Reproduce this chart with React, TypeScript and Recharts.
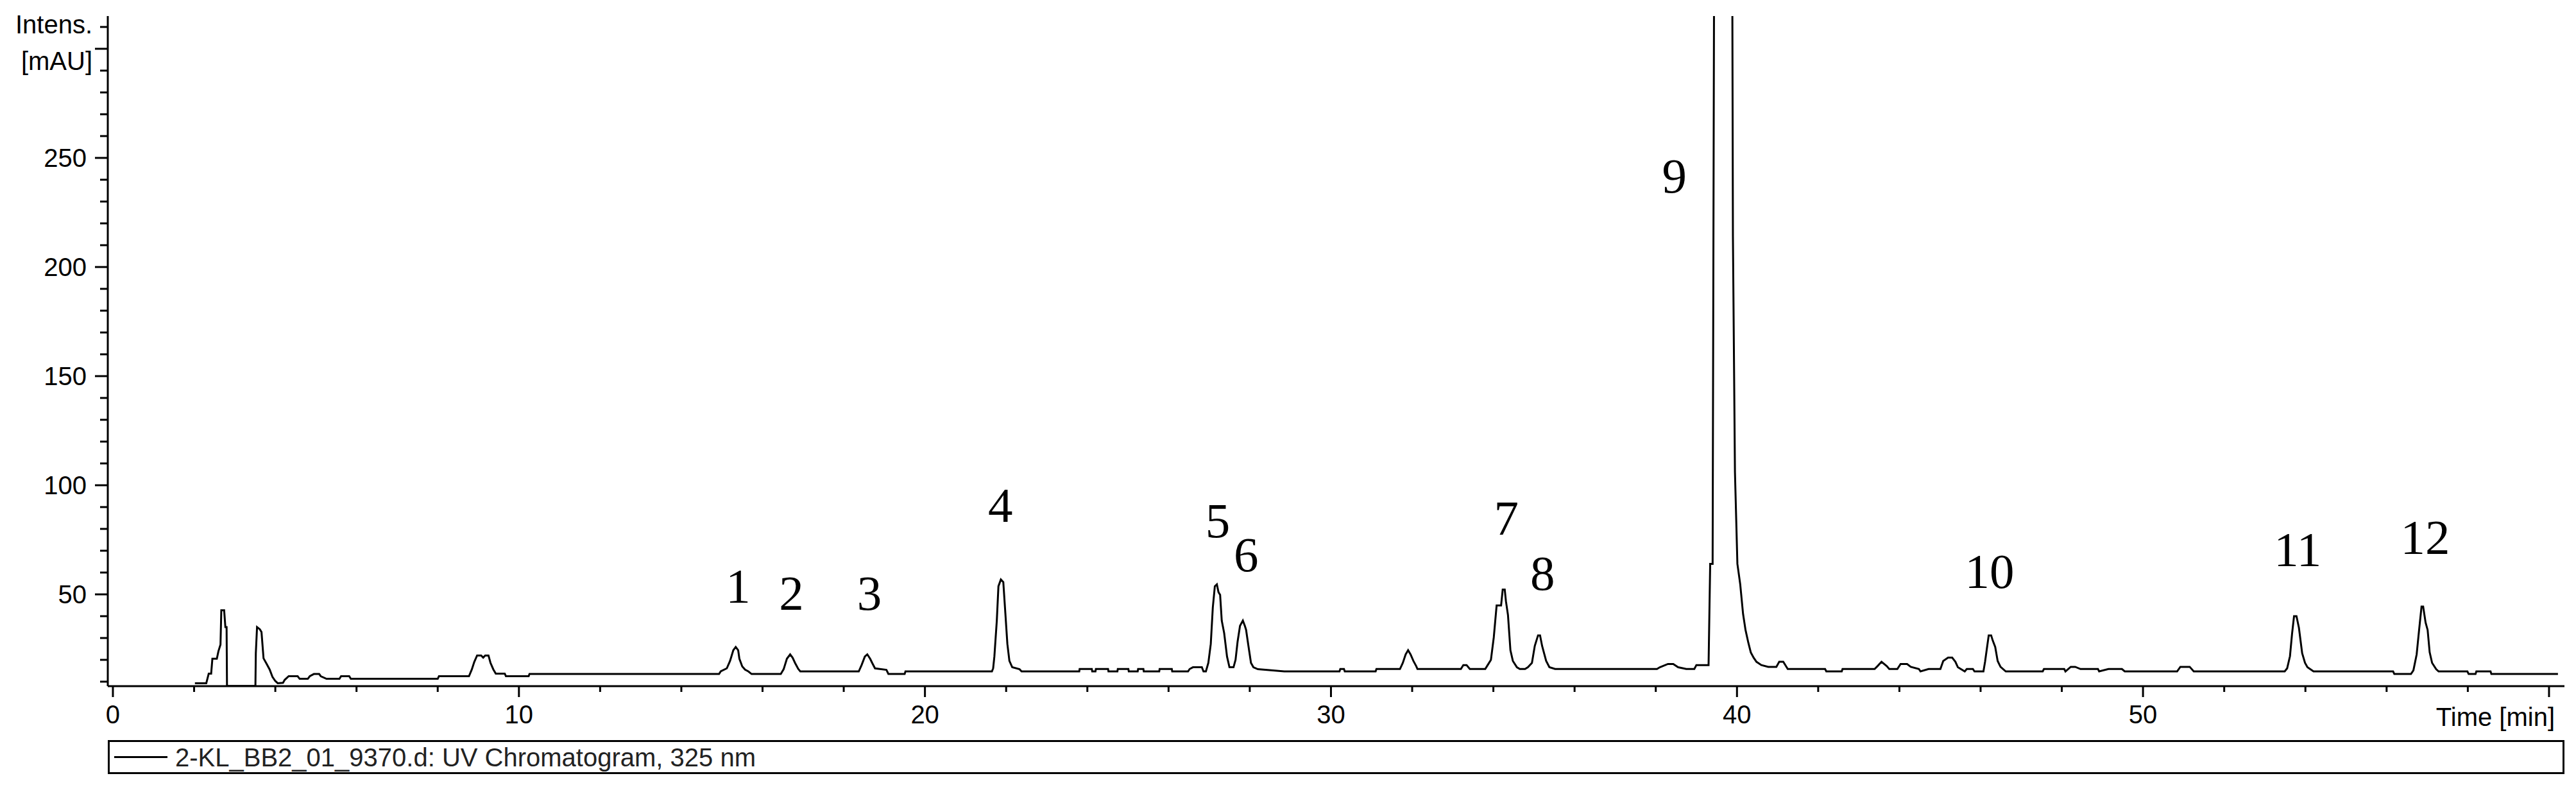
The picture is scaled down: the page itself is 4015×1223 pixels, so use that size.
import React from "react";
import {
  ComposedChart, Line, Scatter, XAxis, YAxis, Legend,
} from "recharts";

// retention time [min] and UV intensity [mAU]
const traceTime = [
  2.02, 2.3, 2.36, 2.42, 2.45, 2.56, 2.6, 2.65, 2.67, 2.74, 2.77, 2.8, 2.81, 3.51, 3.52, 3.55, 3.62, 3.66,
  3.71, 3.79, 3.86, 3.93, 4.0, 4.06, 4.19, 4.23, 4.33, 4.55, 4.6, 4.8, 4.85, 4.95, 5.08, 5.12, 5.26, 5.58,
  5.62, 5.82, 5.86, 8.0, 8.03, 8.77, 8.84, 8.9, 8.97, 9.07, 9.12, 9.17, 9.25, 9.3, 9.37, 9.43, 9.65, 9.68,
  10.24, 10.26, 14.93, 14.97, 15.12, 15.2, 15.28, 15.34, 15.4, 15.43, 15.5, 15.57, 15.65, 15.73, 16.45,
  16.52, 16.6, 16.68, 16.74, 16.8, 16.88, 16.93, 18.37, 18.44, 18.52, 18.58, 18.65, 18.7, 18.77, 19.05,
  19.07, 19.1, 19.5, 19.52, 21.65, 21.68, 21.71, 21.77, 21.81, 21.87, 21.93, 21.98, 22.03, 22.08, 22.15,
  22.33, 22.38, 23.8, 23.81, 24.11, 24.12, 24.2, 24.21, 24.51, 24.52, 24.74, 24.75, 25.01, 25.02, 25.24,
  25.25, 25.38, 25.39, 25.77, 25.78, 26.08, 26.09, 26.48, 26.52, 26.6, 26.82, 26.86, 26.92, 26.98, 27.04,
  27.09, 27.14, 27.19, 27.23, 27.27, 27.31, 27.37, 27.44, 27.5, 27.6, 27.65, 27.7, 27.76, 27.83, 27.88,
  27.91, 27.96, 28.03, 28.09, 28.2, 28.85, 30.21, 30.23, 30.32, 30.34, 31.1, 31.12, 31.7, 31.77, 31.84,
  31.9, 31.96, 32.03, 32.1, 32.13, 33.2, 33.26, 33.34, 33.42, 33.8, 33.86, 33.94, 34.01, 34.08, 34.19,
  34.23, 34.28, 34.31, 34.36, 34.42, 34.48, 34.58, 34.65, 34.78, 34.85, 34.95, 35.02, 35.1, 35.15, 35.2,
  35.3, 35.38, 35.52, 38.03, 38.1, 38.3, 38.43, 38.55, 38.75, 38.95, 39.0, 39.3, 39.34, 39.4, 39.66, 39.9,
  39.95, 40.01, 40.08, 40.15, 40.21, 40.28, 40.34, 40.41, 40.48, 40.6, 40.77, 40.97, 41.04, 41.14, 41.25,
  42.17, 42.2, 42.58, 42.6, 43.39, 43.46, 43.56, 43.69, 43.75, 43.95, 44.03, 44.19, 44.28, 44.48, 44.52,
  44.72, 45.01, 45.08, 45.2, 45.3, 45.38, 45.44, 45.61, 45.66, 45.81, 45.85, 46.07, 46.11, 46.16, 46.2,
  46.26, 46.3, 46.36, 46.42, 46.49, 46.62, 47.53, 47.56, 48.06, 48.09, 48.22, 48.33, 48.46, 48.89, 48.92,
  49.15, 49.48, 49.55, 50.84, 50.92, 51.15, 51.25, 53.49, 53.55, 53.62, 53.67, 53.72, 53.78, 53.84, 53.92,
  53.99, 54.05, 54.2, 56.16, 56.19, 56.6, 56.66, 56.74, 56.8, 56.86, 56.9, 56.96, 57.01, 57.06, 57.12,
  57.22, 57.28, 57.99, 58.02, 58.19, 58.21, 58.56, 58.58, 60.22,
];

const traceIntensity = [
  9.3, 9.3, 13.7, 13.7, 20.5, 20.5, 24, 27, 42.7, 42.7, 35, 35, 8, 8, 23, 35, 34, 32.7,
  20.7, 18, 15.6, 12.2, 10.3, 9.3, 9.5, 10.8, 12.5, 12.5, 11.3, 11.3, 12.5, 13.5, 13.5, 12.5, 11.3, 11.3,
  12.5, 12.5, 11.3, 11.3, 12.5, 12.5, 15.6, 19, 22, 22, 21, 22, 22, 18.6, 15.6, 13.7, 13.7, 12.5,
  12.5, 13.5, 13.5, 14.7, 16.1, 19.5, 24.4, 25.9, 24.4, 20.5, 17, 15.5, 14.7, 13.5, 13.5,
  15.7, 20.5, 22.5, 21, 18.6, 15.8, 14.7, 14.7, 17.6, 21.5, 22.5, 20.5, 18.6, 16.1, 15.4,
  14.7, 13.5, 13.5, 14.7, 14.7, 16.1, 21.5, 38, 53.7, 56.8, 55.6, 41.5, 27.3, 19.5, 16.6,
  15.7, 14.7, 14.7, 15.8, 15.8, 14.7, 14.7, 15.8, 15.8, 14.7, 14.7, 15.8, 15.8, 14.7, 14.7,
  15.8, 15.8, 14.7, 14.7, 15.8, 15.8, 14.7, 14.7, 15.8, 16.6, 16.6, 14.7, 14.7, 18.6, 27.3,
  44, 53.7, 54.6, 51, 49.8, 38, 32.2, 21.5, 16.6, 16.6, 20, 28.3, 35.6, 38, 35.5,
  33.7, 27.3, 18.6, 16.6, 15.7, 14.7, 14.7, 15.8, 15.8, 14.7, 14.7, 15.8, 15.8, 18.6, 22.5,
  24.4, 22.5, 19.5, 17.1, 15.8, 15.8, 17.6, 17.6, 15.8, 15.8, 17.6, 20, 30.3, 44.9, 44.9,
  52.2, 52.2, 46.8, 40.5, 24.4, 19.5, 16.6, 15.8, 15.8, 16.6, 18.6, 26.4, 31.2, 31.2, 26.4,
  19.5, 16.6, 15.8, 15.8, 16.6, 18.1, 18.1, 16.6, 15.8, 15.8, 17.6, 17.6, 64, 64, 2000, 214,
  106, 64, 54.6, 41, 33.7, 27.8, 23.4, 21, 19.1, 17.6, 16.8, 16.8, 19.1, 19.1, 15.8,
  15.8, 14.7, 14.7, 15.8, 15.8, 17.1, 19.1, 17.1, 15.8, 15.8, 18.1, 18.1, 16.8, 15.8, 14.7,
  15.8, 15.8, 19.5, 21, 21, 19.1, 16.6, 14.7, 15.8, 15.8, 14.7, 14.7, 19.1, 25.9, 31.2,
  31.2, 28.8, 25.9, 19.5, 16.8, 14.7, 14.7, 15.8, 15.8, 14.7, 16.8, 16.8, 15.8, 15.8, 14.7,
  15.8, 15.8, 14.7, 14.7, 16.8, 16.8, 14.7, 14.7, 16.1, 21.7, 31.7, 40, 40, 34.7, 23,
  18.6, 16.6, 14.7, 14.7, 13.5, 13.5, 15.2, 22.5, 33.7, 44.4, 44.4, 37.1, 33.7, 23.5, 18.6,
  15.7, 14.7, 14.7, 13.5, 13.5, 14.7, 14.7, 13.5, 13.5,
];

// peak numbers and where they are written
const peakNames = ["1", "2", "3", "4", "5", "6", "7", "8", "9", "10", "11", "12"];
const peakLabelTime = [15.4, 16.71, 18.63, 21.86, 27.21, 27.91, 34.32, 35.21, 38.46, 46.22, 53.81, 56.95];
const peakLabelHeight = [53.8, 50.6, 50.6, 90.9, 83.8, 68.2, 85, 59.7, 241.8, 60.6, 70.6, 76.2];

const xTicks = Array.from({ length: 31 }, (_, i) => i * 2);
const yTicks = Array.from({ length: 31 }, (_, i) => (i + 1) * 10);
const X_DOMAIN: [number, number] = [-0.126, 60.38];
const Y_DOMAIN: [number, number] = [7.94, 315];

const SANS = "'Liberation Sans', Arial, sans-serif";
const SERIF = "'Liberation Serif', 'Times New Roman', serif";

const data = traceTime.map((t, i) => ({ t, v: traceIntensity[i] }));
const peaks = peakNames.map((name, i) => ({ t: peakLabelTime[i], v: peakLabelHeight[i], name }));

function TimeTick({ x, y, payload }: any) {
  const major = payload.value % 10 === 0;
  return (
    <g>
      <line x1={x} x2={x} y1={y} y2={y + (major ? 17 : 9)} stroke="#000" strokeWidth={3} />
      {major && payload.value < 60 && (
        <text x={x} y={y + 44} textAnchor="middle" dominantBaseline="central" fontSize={40} fontFamily={SANS} fill="#000">
          {payload.value}
        </text>
      )}
    </g>
  );
}

function IntensTick({ x, y, payload }: any) {
  const major = payload.value % 50 === 0;
  return (
    <g>
      <line x1={x - (major ? 20 : 12)} x2={x} y1={y} y2={y} stroke="#000" strokeWidth={3} />
      {major && payload.value !== 300 && (
        <text x={x - 33} y={y} textAnchor="end" dominantBaseline="central" fontSize={40} fontFamily={SANS} fill="#000">
          {payload.value}
        </text>
      )}
    </g>
  );
}

function PeakLabel({ cx, cy, payload }: any) {
  return (
    <text x={cx} y={cy} textAnchor="middle" dominantBaseline="central" fontSize={77} fontFamily={SERIF} fill="#000">
      {payload.name}
    </text>
  );
}

function LegendBox() {
  return (
    <div
      style={{
        boxSizing: "border-box",
        height: 53,
        border: "3px solid #000",
        display: "flex",
        alignItems: "center",
        paddingLeft: 7,
        background: "#fff",
      }}
    >
      <div style={{ width: 83, height: 3, background: "#000", marginRight: 12 }} />
      <span style={{ fontFamily: SANS, fontSize: 40, color: "#222", lineHeight: "40px" }}>
        2-KL_BB2_01_9370.d: UV Chromatogram, 325 nm
      </span>
    </div>
  );
}

export default function App() {
  return (
    <div style={{ width: 4015, height: 1223, background: "#fff" }}>
      <style>{"body{margin:0;overflow:hidden;background:#fff}"}</style>
      <ComposedChart width={4015} height={1223} data={data} margin={{ top: 25, right: 18, left: 0, bottom: 17 }}>
        <XAxis
          dataKey="t"
          type="number"
          domain={X_DOMAIN}
          allowDataOverflow
          ticks={xTicks}
          interval={0}
          tickSize={0}
          tickMargin={0}
          tickLine={false}
          tick={<TimeTick />}
          height={84}
          axisLine={{ stroke: "#000", strokeWidth: 3 }}
          label={{
            content: ({ viewBox }: any) => (
              <text
                x={viewBox.x + viewBox.width - 15}
                y={viewBox.y + 48}
                textAnchor="end"
                dominantBaseline="central"
                fontSize={40}
                fontFamily={SANS}
                fill="#000"
              >
                Time [min]
              </text>
            ),
          }}
        />
        <XAxis
          xAxisId="frame"
          orientation="top"
          type="number"
          domain={X_DOMAIN}
          allowDataOverflow
          height={0}
          tick={false}
          tickLine={false}
          axisLine={{ stroke: "#000", strokeWidth: 3 }}
        />
        <YAxis
          type="number"
          domain={Y_DOMAIN}
          allowDataOverflow
          ticks={yTicks}
          interval={0}
          width={168}
          tickSize={0}
          tickMargin={0}
          tickLine={false}
          tick={<IntensTick />}
          axisLine={{ stroke: "#000", strokeWidth: 3 }}
          label={{
            content: ({ viewBox }: any) => (
              <g fontSize={40} fontFamily={SANS} fill="#000" textAnchor="end">
                <text x={viewBox.x + 144} y={viewBox.y + 13} dominantBaseline="central">Intens.</text>
                <text x={viewBox.x + 144} y={viewBox.y + 70} dominantBaseline="central">[mAU]</text>
              </g>
            ),
          }}
        />
        <YAxis
          yAxisId="frame"
          orientation="right"
          type="number"
          domain={Y_DOMAIN}
          width={0}
          tick={false}
          tickLine={false}
          axisLine={{ stroke: "#000", strokeWidth: 3 }}
        />
        <Legend
          verticalAlign="bottom"
          content={() => <LegendBox />}
          wrapperStyle={{ left: 168, width: 3829, bottom: 17 }}
        />
        <Line
          type="linear"
          dataKey="v"
          name="2-KL_BB2_01_9370.d: UV Chromatogram, 325 nm"
          stroke="#000"
          strokeWidth={3}
          dot={false}
          activeDot={false}
          isAnimationActive={false}
        />
        <Scatter data={peaks} dataKey="v" shape={<PeakLabel />} isAnimationActive={false} legendType="none" />
      </ComposedChart>
    </div>
  );
}
